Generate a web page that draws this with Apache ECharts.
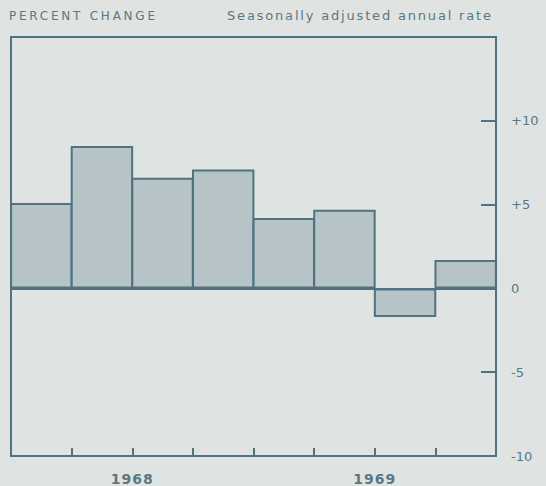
<!DOCTYPE html>
<html>
<head>
<meta charset="utf-8">
<script src="https://cdn.jsdelivr.net/npm/echarts@6/dist/echarts.min.js"></script>
<style>
html,body{margin:0;padding:0;background:#dfe4e3;}
#c{width:546px;height:486px;}
</style>
</head>
<body>
<div id="c"></div>
<script>
const quarters = ['1968 Q1','1968 Q2','1968 Q3','1968 Q4','1969 Q1','1969 Q2','1969 Q3','1969 Q4'];
const percentChange = [5.1, 8.5, 6.6, 7.1, 4.2, 4.7, -1.7, 1.7];
const years = ['1968', '1969'];
const yTickLabels = {10: '+10', 5: '+5', 0: '0', '-5': '-5', '-10': '-10'};

const lineColor = '#4f7480';
const textColor = '#5a7882';
const chart = echarts.init(document.getElementById('c'), null, {renderer: 'svg'});

// target rendered widths (letter-spaced text as in the printed original)
const textWidths = {'PERCENT CHANGE': 146, 'Seasonally adjusted annual rate': 264, '1968': 42, '1969': 42};

function spaceLetters() {
  document.querySelectorAll('#c svg text').forEach(el => {
    const t = el.textContent;
    if (textWidths[t] && !el.dataset.spaced) {
      el.style.letterSpacing = '0px';
      const w = el.getComputedTextLength();
      const n = t.length;
      const ls = (textWidths[t] - w) / (n - 1);
      el.style.letterSpacing = ls.toFixed(2) + 'px';
      el.dataset.spaced = '1';
    }
  });
}

chart.setOption({
  backgroundColor: '#dfe4e3',
  animation: false,
  title: [
    {text: 'PERCENT CHANGE', left: 4, top: 5,
     textStyle: {fontFamily: 'DejaVu Sans', fontSize: 12, fontWeight: 'normal', color: textColor}},
    {text: 'Seasonally adjusted annual rate', left: 222, top: 4,
     textStyle: {fontFamily: 'DejaVu Sans', fontSize: 13, fontWeight: 'normal', color: textColor}}
  ],
  grid: {left: 11, right: 50, top: 37, bottom: 30, show: true, borderColor: lineColor, borderWidth: 2, backgroundColor: 'transparent'},
  xAxis: [
    {type: 'category', data: quarters, position: 'bottom',
     axisLine: {show: true, onZero: false, lineStyle: {color: lineColor, width: 2}},
     axisTick: {show: true, inside: true, length: 8, lineStyle: {color: lineColor, width: 2}},
     axisLabel: {show: false}},
    {type: 'category', data: years, position: 'bottom', gridIndex: 0,
     axisLine: {show: false}, axisTick: {show: false},
     axisLabel: {margin: 16, fontFamily: 'DejaVu Sans', fontSize: 14, fontWeight: 'bold', color: textColor}}
  ],
  yAxis: {
    type: 'value', position: 'right', min: -10, max: 15, interval: 5,
    splitLine: {show: false},
    axisLine: {show: false},
    axisTick: {show: true, inside: true, length: 15, lineStyle: {color: lineColor, width: 2}},
    axisLabel: {margin: 15, fontFamily: 'DejaVu Sans', fontSize: 13, color: textColor,
      formatter: v => (yTickLabels[v] !== undefined ? yTickLabels[v] : '')}
  },
  series: [{
    type: 'bar', data: percentChange, xAxisIndex: 0, barCategoryGap: '0%', barWidth: '103%',
    itemStyle: {color: '#b6c4c7', borderColor: lineColor, borderWidth: 2},
    markLine: {silent: true, symbol: 'none', label: {show: false},
      lineStyle: {color: lineColor, width: 2, type: 'solid'}, data: [{yAxis: 0}]}
  }]
});
spaceLetters();
chart.on('finished', spaceLetters);
</script>
</body>
</html>
